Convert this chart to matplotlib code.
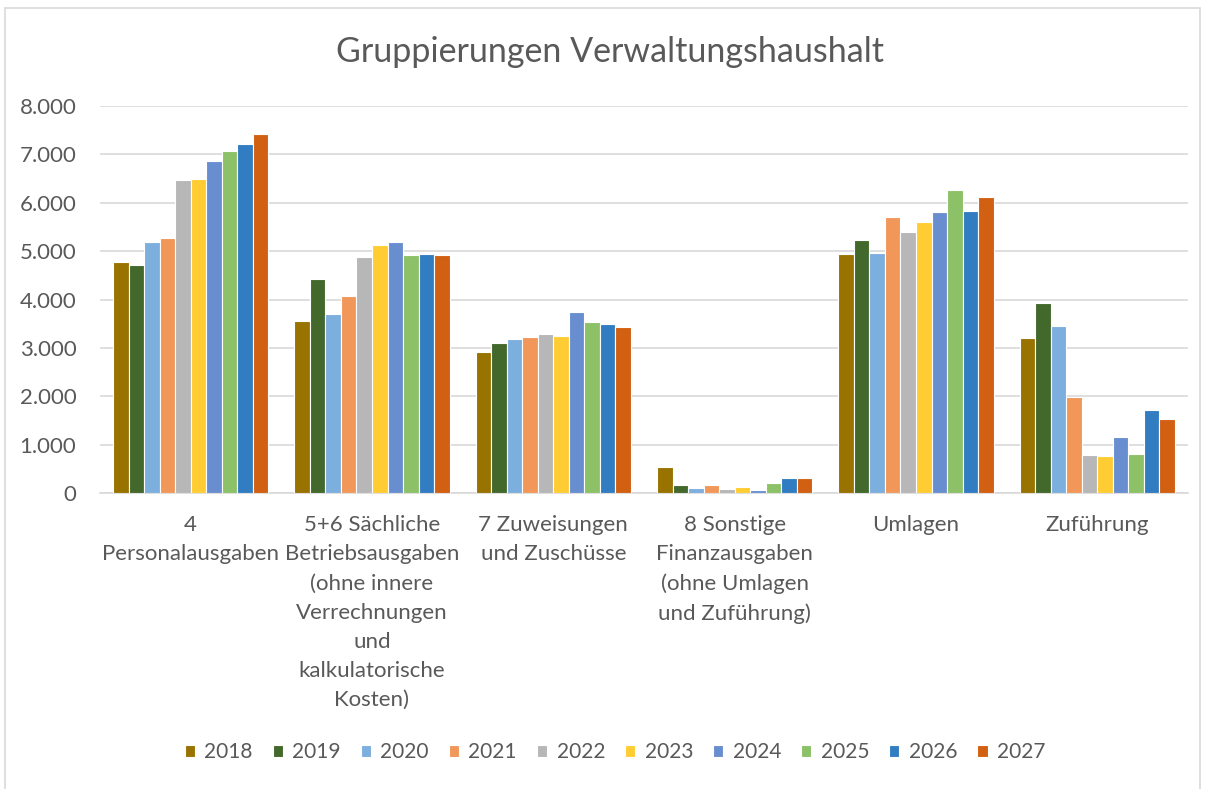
import numpy as np
import matplotlib.pyplot as plt
from matplotlib.patches import Rectangle

plt.rcParams['font.family'] = ['Lato', 'DejaVu Sans']

# categories (x axis labels, wrapped like in the original)
categories = ["4\nPersonalausgaben",
              "5+6 Sächliche\nBetriebsausgaben\n(ohne innere\nVerrechnungen\nund\nkalkulatorische\nKosten)",
              "7 Zuweisungen\nund Zuschüsse",
              "8 Sonstige\nFinanzausgaben\n(ohne Umlagen\nund Zuführung)",
              "Umlagen",
              "Zuführung"]

years = ["2018", "2019", "2020", "2021", "2022", "2023", "2024", "2025", "2026", "2027"]

# values per year, one entry per category
v2018 = [4770, 3550, 2910, 540, 4950, 3200]
v2019 = [4710, 4420, 3100, 175, 5230, 3920]
v2020 = [5180, 3700, 3180, 100, 4960, 3460]
v2021 = [5270, 4070, 3220, 175, 5710, 1980]
v2022 = [6470, 4880, 3280, 80, 5390, 780]
v2023 = [6490, 5120, 3250, 120, 5610, 770]
v2024 = [6870, 5190, 3750, 70, 5810, 1150]
v2025 = [7080, 4930, 3530, 200, 6270, 810]
v2026 = [7210, 4940, 3490, 310, 5830, 1710]
v2027 = [7420, 4930, 3440, 300, 6110, 1520]
values = [v2018, v2019, v2020, v2021, v2022, v2023, v2024, v2025, v2026, v2027]

colors = ["#997300", "#43682B", "#7CAFDD", "#F1975A", "#B7B7B7",
          "#FFCD33", "#698ED0", "#8CC168", "#327DC2", "#D26012"]

fig = plt.figure(figsize=(12.06, 7.89), dpi=100)
ax = fig.add_axes([100 / 1206, 1 - 493 / 789, 1088 / 1206, 387 / 789])

x = np.arange(len(categories))
w = 0.0855
for i, (yr, vals) in enumerate(zip(years, values)):
    ax.bar(x + (i - 4.5) * w, vals, width=w, color=colors[i],
           edgecolor="white", linewidth=0.8, label=yr, zorder=3)

ax.set_xlim(-0.5, len(categories) - 0.5)
ax.set_ylim(0, 8000)
ax.set_yticks(range(0, 8001, 1000))
ax.set_yticklabels(["0" if t == 0 else f"{t // 1000}.000" for t in range(0, 8001, 1000)])
ax.set_xticks(x)
ax.set_xticklabels(categories, linespacing=1.57, va="top")
ax.grid(axis="y", color="#D9D9D9", linewidth=1.2, zorder=0)
for s in ["top", "right", "left"]:
    ax.spines[s].set_visible(False)
ax.spines["bottom"].set_color("#D9D9D9")
ax.spines["bottom"].set_linewidth(1.2)
ax.tick_params(axis="both", length=0, colors="#595959", labelsize=16)
ax.tick_params(axis="x", pad=16)
ax.tick_params(axis="y", pad=17)

fig.text(610 / 1206, 1 - 52 / 789, "Gruppierungen Verwaltungshaushalt",
         ha="center", va="center", fontsize=24.5, color="#595959")

leg = fig.legend(loc="center", bbox_to_anchor=(615 / 1206, 1 - 752 / 789), ncol=10,
                 frameon=False, fontsize=15, handlelength=0.5, handleheight=0.5,
                 handletextpad=0.45, columnspacing=0.95)
for t in leg.get_texts():
    t.set_color("#595959")

# chart border like the spreadsheet chart frame
fig.patches.append(Rectangle((5 / 1206, -0.01), 1195 / 1206, 1 - 8 / 789 + 0.01,
                             transform=fig.transFigure, fill=False,
                             edgecolor="#D9D9D9", linewidth=1.2))

fig.savefig("out.png", dpi=100, facecolor="white")
